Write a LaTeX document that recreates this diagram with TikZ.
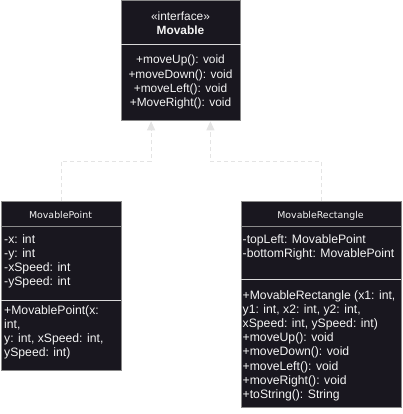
\documentclass[tikz,border=0pt]{standalone}
\usepackage{fontspec}
\setmainfont{Liberation Sans}
\newfontfamily\hdrfont{DejaVu Sans}
\usetikzlibrary{arrows.meta}
\definecolor{boxfill}{HTML}{19171F}
\definecolor{boxedge}{HTML}{8A8A8A}
\definecolor{divline}{HTML}{D8D8D8}
\definecolor{connc}{HTML}{E4E4E4}
\definecolor{txtc}{HTML}{F4F4F4}
\tikzset{
  umlbox/.style={draw=boxedge, fill=boxfill, line width=0.8pt, anchor=north west, inner sep=0pt},
  body/.style={text=txtc, font=\fontsize{12.2}{14.2}\selectfont, align=left, anchor=base west, inner sep=0pt},
  cbody/.style={text=txtc, font=\fontsize{11.9}{14.1}\selectfont, align=center, anchor=base, inner sep=0pt},
  hdr/.style={text=txtc, font=\hdrfont\fontsize{9.4}{11}\selectfont, anchor=base, inner sep=0pt},
  conn/.style={draw=connc, line width=0.8pt, dash pattern=on 4pt off 3pt, -{Triangle[length=9pt,width=8pt,fill=connc]}},
}
\begin{document}
\begin{tikzpicture}[x=1pt,y=-1pt]
\useasboundingbox[fill=white] (0,0) rectangle (403,414);
% interface box
\node[umlbox, minimum width=119pt, minimum height=120pt] (mov) at (121,0.5) {};
\draw[divline, line width=0.8pt] (mov.west |- 0,44) -- (mov.east |- 0,44);
\node[cbody] (movst) at (180.5,21) {«interface»};
\node[cbody, font=\bfseries\fontsize{11.9}{14.1}\selectfont] (movname) at (180.5,35) {Movable};
\node[cbody] (movops) at (180.5,106.3) {+moveUp(): void\\+moveDown(): void\\+moveLeft(): void\\+MoveRight(): void};
% MovablePoint box
\node[umlbox, minimum width=120pt, minimum height=169pt] (mp) at (0.5,201) {};
\draw[boxedge, line width=0.8pt] (mp.west |- 0,226) -- (mp.east |- 0,226);
\draw[divline, line width=0.8pt] (mp.west |- 0,300) -- (mp.east |- 0,300);
\node[hdr] (mpname) at (60.5,218.5) {MovablePoint};
\node[body] (mpattr) at (4,285.6) {-x: int\\-y: int\\-xSpeed: int\\-ySpeed: int};
\node[body] (mpops) at (4,356.6) {+MovablePoint(x:\\int,\\y: int, xSpeed: int,\\ySpeed: int)};
% MovableRectangle box
\node[umlbox, minimum width=160pt, minimum height=206pt] (mr) at (240.5,201) {};
\draw[boxedge, line width=0.8pt] (mr.west |- 0,226.5) -- (mr.east |- 0,226.5);
\draw[divline, line width=0.8pt] (mr.west |- 0,279) -- (mr.east |- 0,279);
\node[hdr] (mrname) at (320.5,218.5) {MovableRectangle};
\node[body] (mrattr) at (242.5,257.2) {-topLeft: MovablePoint\\-bottomRight: MovablePoint};
\node[body] (mrops) at (242.5,398.4) {+MovableRectangle (x1: int,\\y1: int, x2: int, y2: int,\\xSpeed: int, ySpeed: int)\\+moveUp(): void\\+moveDown(): void\\+moveLeft(): void\\+moveRight(): void\\+toString(): String};
% realization connectors
\draw[conn] (mp.north) |- ([xshift=-29.8pt,yshift=-40pt]mov.south) -- ([xshift=-29.8pt]mov.south);
\draw[conn] (mr.north) |- ([xshift=29.5pt,yshift=-40pt]mov.south) -- ([xshift=29.5pt]mov.south);
\end{tikzpicture}
\end{document}
